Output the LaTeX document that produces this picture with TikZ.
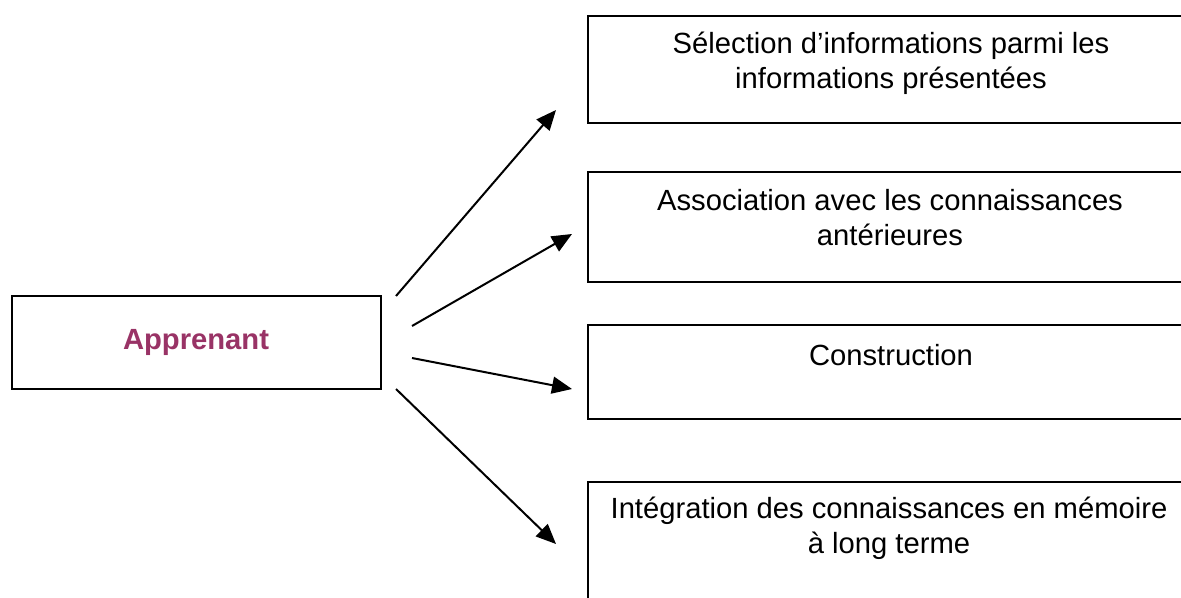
\documentclass[tikz,border=0pt]{standalone}
\usepackage{fontspec}
\setmainfont{Liberation Sans}
\usetikzlibrary{arrows.meta}
\definecolor{appcol}{HTML}{993366}
\begin{document}
\begin{tikzpicture}[x=0.5pt,y=-0.5pt,
  boxstyle/.style={draw,line width=1pt,inner sep=0pt,minimum width=302pt},
  txt/.style={font=\fontsize{14.6}{17.5}\selectfont,align=center,inner sep=0pt},
  arr/.style={line width=1pt,-{Triangle[length=10pt,width=8.5pt]}}]
\useasboundingbox (0,0) rectangle (1181,598);
\clip (0,0) rectangle (1181,598);
\fill[white] (0,0) rectangle (1181,598);
% learner box
\node[boxstyle,minimum width=184.5pt,minimum height=46.5pt] (app) at (196.5,342.5) {};
\node[txt,font=\fontsize{14.6}{17.5}\selectfont\bfseries,text=appcol] (appt) at (196,342) {Apprenant};
% right boxes
\node[boxstyle,minimum height=53.5pt] (b1) at (890,69.5) {};
\node[boxstyle,minimum height=55pt] (b2) at (890,227) {};
\node[boxstyle,minimum height=47pt] (b3) at (890,372) {};
\node[boxstyle,minimum height=84pt] (b4) at (890,566) {};
\node[txt] (t1) at (891,63) {Sélection d’informations parmi les\\informations présentées};
\node[txt] (t2) at (890,217.5) {Association avec les connaissances\\antérieures};
\node[txt] (t3) at (891,355) {Construction};
\node[txt] (t4) at (889,528.5) {Intégration des connaissances en mémoire\\à long terme};
% arrows
\coordinate (s1) at (396,296); \coordinate (e1) at (556,110);
\coordinate (s2) at (412,326); \coordinate (e2) at (572,234);
\coordinate (s3) at (412,358); \coordinate (e3) at (572,389);
\coordinate (s4) at (396,389); \coordinate (e4) at (556,544);
\draw[arr] (s1) -- (e1);
\draw[arr] (s2) -- (e2);
\draw[arr] (s3) -- (e3);
\draw[arr] (s4) -- (e4);
\end{tikzpicture}
\end{document}
